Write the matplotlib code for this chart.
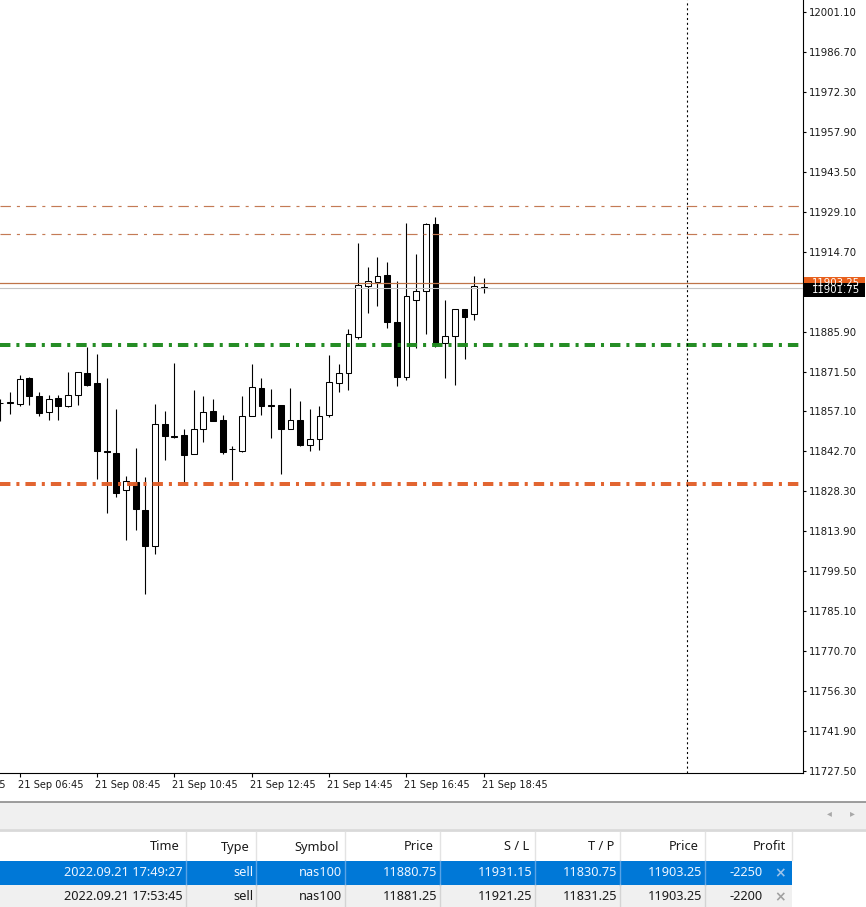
import matplotlib
matplotlib.use("Agg")
import matplotlib.pyplot as plt
import matplotlib.transforms as mtransforms
from matplotlib.patches import Rectangle
import pandas as pd

plt.rcParams['lines.scale_dashes'] = False

# M15 candles of nas100, 21 Sep 2022 06:15 .. 18:45
first_bar = pd.Timestamp("2022-09-21 06:15")
bar_len = pd.Timedelta(minutes=15)
opens = [11860.2, 11860.2, 11859.8, 11869.2, 11862.7, 11856.9, 11862.0, 11859.1, 11863.0, 11871.0,
         11867.4, 11842.9, 11842.1, 11828.8, 11831.7, 11821.6, 11808.6, 11852.6, 11848.3, 11848.6,
         11841.8, 11850.8, 11857.3, 11854.0, 11843.6, 11842.9, 11855.5, 11865.6, 11859.4, 11859.4,
         11850.8, 11854.0, 11845.0, 11847.2, 11855.8, 11867.4, 11871.0, 11883.9, 11902.3, 11903.8,
         11906.3, 11889.4, 11869.5, 11897.3, 11900.5, 11924.7, 11881.8, 11884.3, 11894.0, 11892.2,
         11902.0]
highs = [11861.6, 11864.1, 11870.3, 11869.5, 11864.1, 11863.0, 11863.0, 11871.3, 11871.5, 11880.3,
         11877.8, 11869.2, 11858.0, 11833.8, 11843.9, 11833.5, 11859.8, 11857.3, 11874.6, 11850.8,
         11864.8, 11862.7, 11861.6, 11855.8, 11844.7, 11862.7, 11874.2, 11869.2, 11865.2, 11859.6,
         11865.6, 11860.9, 11858.0, 11859.1, 11877.5, 11874.2, 11886.8, 11917.8, 11909.2, 11912.8,
         11911.0, 11904.1, 11925.0, 11913.9, 11925.0, 11927.2, 11897.3, 11894.2, 11894.2, 11905.9,
         11905.2]
lows = [11853.7, 11856.2, 11859.1, 11859.4, 11855.5, 11854.0, 11854.0, 11858.7, 11859.4, 11866.3,
        11832.8, 11820.5, 11826.3, 11810.8, 11814.4, 11791.3, 11805.7, 11839.6, 11847.5, 11831.3,
        11841.8, 11846.1, 11853.5, 11841.8, 11832.4, 11842.5, 11855.3, 11855.8, 11847.5, 11834.6,
        11850.6, 11844.7, 11842.9, 11843.2, 11855.1, 11864.1, 11865.0, 11883.2, 11892.6, 11895.1,
        11887.2, 11866.3, 11868.4, 11880.0, 11885.0, 11880.3, 11869.2, 11866.6, 11876.0, 11890.1,
        11899.8]
closes = [11860.2, 11860.4, 11868.8, 11862.7, 11856.6, 11861.6, 11859.1, 11863.0, 11871.3, 11866.6,
          11842.9, 11842.5, 11827.7, 11832.0, 11821.9, 11808.6, 11852.6, 11848.3, 11848.0, 11841.4,
          11850.8, 11856.9, 11853.7, 11842.5, 11843.4, 11855.5, 11865.9, 11859.1, 11859.2, 11850.8,
          11854.0, 11845.0, 11847.2, 11855.5, 11867.7, 11871.0, 11885.0, 11902.7, 11904.1, 11905.9,
          11889.4, 11869.5, 11898.7, 11900.5, 11924.7, 11881.4, 11884.3, 11894.0, 11891.2, 11902.3,
          11901.75]

ask_price = 11903.25
bid_price = 11901.75
day_separator = pd.Timestamp("2022-09-22 00:00")
time_ticks = pd.date_range("2022-09-21 04:45", "2022-09-21 18:45", freq="2h")
price_ticks = [12001.10, 11986.70, 11972.30, 11957.90, 11943.50, 11929.10, 11914.70,
               11885.90, 11871.50, 11857.10, 11842.70, 11828.30, 11813.90, 11799.50,
               11785.10, 11770.70, 11756.30, 11741.90, 11727.50]

# open positions
headers = ["Time", "Type", "Symbol", "Price", "S / L", "T / P", "Price", "Profit"]
open_times = ["2022.09.21 17:49:27", "2022.09.21 17:53:45"]
types = ["sell", "sell"]
symbols = ["nas100", "nas100"]
open_prices = [11880.75, 11881.25]
stop_losses = [11931.15, 11921.25]
take_profits = [11830.75, 11831.25]
current_prices = [11903.25, 11903.25]
profits = [-2250, -2200]

W, H = 866, 907
fig = plt.figure(figsize=(W / 100, H / 100), dpi=100)
fig.patch.set_facecolor("white")

# ---- bottom panel (toolbox) in pixel coordinates
bg = fig.add_axes([0, 0, 1, 1])
bg.set_xlim(0, W)
bg.set_ylim(H, 0)
bg.axis("off")
bg.add_patch(Rectangle((0, 802), W, 27, fc="#f0f0f0", ec="none"))
bg.plot([0, W], [802, 802], color="#8c8c8c", lw=1.2)
bg.plot([0, W], [830, 830], color="#d9d9d9", lw=2)
bg.text(829, 813, "◂", fontsize=7, color="#a8a8a8", ha="center", va="center", family="DejaVu Sans")
bg.text(852, 813, "▸", fontsize=7, color="#a8a8a8", ha="center", va="center", family="DejaVu Sans")

col_right = [186, 256, 345, 440, 535, 620, 705, 792]
tfont = dict(family="Noto Sans", fontsize=9.2)
# header
for xr, name in zip(col_right, headers):
    bg.text(xr - 6, 847, name, ha="right", va="center", color="#1a1a1a", **tfont)
    bg.plot([xr, xr], [832, 860], color="#e3e3e3", lw=1)

row_top = [861, 885]
row_bg = ["#0078d7", "#f0f0f0"]
row_fg = ["#eef5ff", "#1a1a1a"]
row_sep = ["#5aa3e6", "#d4d4d4"]
row_x = ["#9cc3ea", "#a0a0a0"]
for i in range(2):
    y0 = row_top[i]
    yc = y0 + 12
    bg.add_patch(Rectangle((0, y0), col_right[-1], 24, fc=row_bg[i], ec="none"))
    cells = [open_times[i], types[i], symbols[i], f"{open_prices[i]:.2f}", f"{stop_losses[i]:.2f}",
             f"{take_profits[i]:.2f}", f"{current_prices[i]:.2f}"]
    for xr, val in zip(col_right[:-1], cells):
        bg.text(xr - 3, yc, val, ha="right", va="center", color=row_fg[i], **tfont)
        bg.plot([xr, xr], [y0, y0 + 24], color=row_sep[i], lw=1)
    bg.text(763, yc, str(profits[i]), ha="right", va="center", color=row_fg[i], **tfont)
    bg.text(780, yc, "×", ha="center", va="center", color=row_x[i], fontsize=10,
            family="DejaVu Sans", weight="bold")

# ---- price chart
ax = fig.add_axes([0, (H - 773) / H, 803 / W, 773 / H])
ax.set_zorder(2)
ax.set_facecolor("white")

idx = list(range(len(opens)))
bull = [c >= o for o, c in zip(opens, closes)]
ax.vlines(idx, lows, highs, color="black", lw=0.8, zorder=2)
ax.bar(idx, [abs(c - o) for o, c in zip(opens, closes)],
       bottom=[min(o, c) for o, c in zip(opens, closes)], width=0.6,
       color=["white" if b else "black" for b in bull], edgecolor="black", linewidth=0.75, zorder=3)

dashdot = (0, (7.5, 4.3, 2.2, 4.3))
for p in stop_losses:
    ax.axhline(p, color="#c47a55", lw=0.85, ls=dashdot, zorder=4)
for p in open_prices:
    ax.axhline(p, color="#1f8a1f", lw=1.4, ls=dashdot, zorder=4)
for p in take_profits:
    ax.axhline(p, color="#e2612c", lw=1.4, ls=dashdot, zorder=4)
ax.axhline(ask_price, color="#bf7448", lw=0.9, zorder=4)
ax.axhline(bid_price, color="#c4c4c4", lw=0.8, zorder=4)

sep_idx = (day_separator - first_bar) / bar_len
ax.axvline(sep_idx, color="black", lw=0.8, ls=(0, (1.5, 2.0)), zorder=4)

ax.set_xlim(-0.03, 83.0)
ax.set_ylim(11726.77, 12005.43)

for s in ["left", "top"]:
    ax.spines[s].set_visible(False)
for s in ["right", "bottom"]:
    ax.spines[s].set_linewidth(0.8)

ax.yaxis.tick_right()
ax.set_yticks(price_ticks)
ax.set_yticklabels([f"{p:.2f}" for p in price_ticks], family="DejaVu Sans", fontsize=7.3, color="#1a1a1a")
ax.tick_params(axis="y", direction="out", length=2.5, width=0.8, pad=2)

tick_idx = [(t - first_bar) / bar_len for t in time_ticks]
ax.set_xticks([t for t in tick_idx if t >= 0])
ax.set_xticklabels([])
ax.tick_params(axis="x", direction="out", length=3, width=0.8)
lab_tr = mtransforms.offset_copy(mtransforms.blended_transform_factory(ax.transData, ax.transAxes),
                                 fig=fig, x=-2, y=-12, units="dots")
for t, ti in zip(time_ticks, tick_idx):
    ax.text(ti, 0, t.strftime("%d %b %H:%M"), transform=lab_tr, ha="left", va="center",
            family="DejaVu Sans", fontsize=7.1, color="#1a1a1a", clip_on=False)

# price tags on the right scale (bid tag sits a little lower, over the ask tag)
tag_tr = mtransforms.blended_transform_factory(ax.transAxes, ax.transData)
for price, fc, dy in [(ask_price, "#e8601c", 0), (bid_price, "black", -2)]:
    tr = mtransforms.offset_copy(tag_tr, fig=fig, x=0, y=dy, units="dots")
    ax.add_patch(Rectangle((1.001, price - 2.5), 61 / 803, 5.0, transform=tr,
                           fc=fc, ec="none", clip_on=False, zorder=6))
    ax.text(1.0 + 9 / 803, price, f"{price:.2f}", transform=tr, ha="left", va="center",
            family="DejaVu Sans", fontsize=7.3, color="white", clip_on=False, zorder=7)

fig.savefig("out.png", dpi=100)
